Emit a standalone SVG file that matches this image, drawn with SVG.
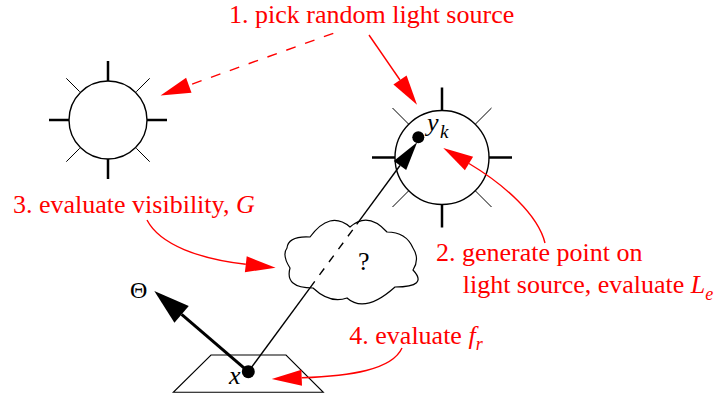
<svg xmlns="http://www.w3.org/2000/svg" width="722" height="395" viewBox="0 0 722 395">
<style>
.lbl{font-family:"Liberation Serif","Times New Roman",serif;font-size:26px;fill:#ff0000}
.blk{font-family:"Liberation Serif","Times New Roman",serif;font-size:26px;fill:#000}
.it{font-style:italic}
.sun circle{fill:#fff;stroke:#000;stroke-width:1.4}
.tick{stroke:#000;stroke-width:2.5}
.diag{stroke:#000;stroke-width:1}
.red{fill:none;stroke:#ff0000;stroke-width:1.4}
</style>
<defs>
<marker id="rh" markerUnits="userSpaceOnUse" markerWidth="30" markerHeight="16" refX="0" refY="8" orient="auto" overflow="visible">
<path d="M0,0 L30,8 L0,16 Z" fill="#ff0000"/>
</marker>
<marker id="bh" markerUnits="userSpaceOnUse" markerWidth="29" markerHeight="16" refX="0" refY="8" orient="auto" overflow="visible">
<path d="M0,0.3 L29,8 L0,15.7 Z" fill="#000"/>
</marker>
<marker id="bt" markerUnits="userSpaceOnUse" markerWidth="36" markerHeight="22" refX="0" refY="11" orient="auto" overflow="visible">
<path d="M0,0 L36,11 L0,22 Z" fill="#000"/>
</marker>
</defs>
<rect width="722" height="395" fill="#fff"/>

<g id="sun-left" class="sun">
<circle cx="108" cy="120" r="39"/>
<line class="tick" x1="49" y1="120" x2="69" y2="120"/>
<line class="tick" x1="147" y1="120" x2="167" y2="120"/>
<line class="tick" x1="108" y1="61" x2="108" y2="81"/>
<line class="tick" x1="108" y1="159" x2="108" y2="179"/>
<line class="diag" x1="79.7" y1="91.7" x2="66.3" y2="78.3"/>
<line class="diag" x1="136.3" y1="91.7" x2="149.7" y2="78.3"/>
<line class="diag" x1="79.7" y1="148.3" x2="66.3" y2="161.7"/>
<line class="diag" x1="136.3" y1="148.3" x2="149.7" y2="161.7"/>
</g>

<g id="sun-right" class="sun">
<circle cx="442" cy="157.5" r="47"/>
<line class="tick" x1="372" y1="157.5" x2="395" y2="157.5"/>
<line class="tick" x1="489" y1="157.5" x2="512" y2="157.5"/>
<line class="tick" x1="442" y1="87.5" x2="442" y2="110.5"/>
<line class="tick" x1="442" y1="204.5" x2="442" y2="227.5"/>
<line class="diag" x1="408.8" y1="124.3" x2="392.5" y2="108"/>
<line class="diag" x1="475.2" y1="124.3" x2="491.5" y2="108"/>
<line class="diag" x1="408.8" y1="190.7" x2="392.5" y2="207"/>
<line class="diag" x1="475.2" y1="190.7" x2="491.5" y2="207"/>
</g>

<g id="cloud">
<path d="M287,248 Q288.3,235.7 310,237 Q330,210 350,227 Q368,211 387,232 Q406,232 413,248 Q420,259 413,270 Q429,287 395,287 Q365,314 347,298 Q330,304 313,288 Q284.5,288 290,268 Q281.7,255 287,248 Z" fill="#fff" stroke="#000" stroke-width="1.2"/>
<text class="blk" x="358" y="270">?</text>
</g>

<g id="surface">
<polygon points="211,355 286,355 323.3,392.3 173.3,392.3" fill="none" stroke="#000" stroke-width="1.1"/>
</g>

<g id="connectors">
<line x1="248.3" y1="371.7" x2="310" y2="287.8" stroke="#000" stroke-width="1.4"/>
<line x1="310" y1="287.8" x2="356.7" y2="224.4" stroke="#000" stroke-width="1.4" stroke-dasharray="8 8"/>
<line x1="356.7" y1="224.4" x2="400" y2="165.5" stroke="#000" stroke-width="1.4" marker-end="url(#bh)"/>
<line x1="248.3" y1="371.7" x2="181.6" y2="314.4" stroke="#000" stroke-width="3" marker-end="url(#bt)"/>
<line class="red" x1="369" y1="35" x2="400" y2="80" marker-end="url(#rh)"/>
<line class="red" x1="333.3" y1="33.3" x2="188.8" y2="85.3" stroke-dasharray="10 10" marker-end="url(#rh)"/>
<path class="red" d="M147,220 C160,245 200,259 245.8,264.3" marker-end="url(#rh)"/>
<path class="red" d="M402,348 C392,370 350,376 301.7,377.8" marker-end="url(#rh)"/>
<path class="red" d="M545,243 C538,215 505,185 469,163.5" marker-end="url(#rh)"/>
</g>

<g id="point-x">
<circle cx="248.3" cy="371.7" r="6.5" fill="#000"/>
<text class="blk it" x="229" y="384">x</text>
</g>
<g id="point-yk">
<circle cx="418.3" cy="137.3" r="6" fill="#000"/>
<text class="blk it" x="427" y="131">y<tspan x="440" y="138.3" style="font-size:19px">k</tspan></text>
</g>
<g id="theta">
<text class="blk" x="130" y="298" style="font-size:24px">Θ</text>
</g>

<g id="labels">
<text class="lbl" x="229" y="23">1. pick random light source</text>
<text class="lbl" x="13" y="213">3. evaluate visibility, <tspan class="it">G</tspan></text>
<text class="lbl" x="436" y="261">2. generate point on</text>
<text class="lbl" x="462.7" y="293.3">light source, evaluate <tspan class="it">L</tspan><tspan class="it" dy="6.7" style="font-size:18px">e</tspan></text>
<text class="lbl" x="349.3" y="344">4. evaluate <tspan class="it">f</tspan><tspan class="it" dy="6" style="font-size:18px">r</tspan></text>
</g>
</svg>
